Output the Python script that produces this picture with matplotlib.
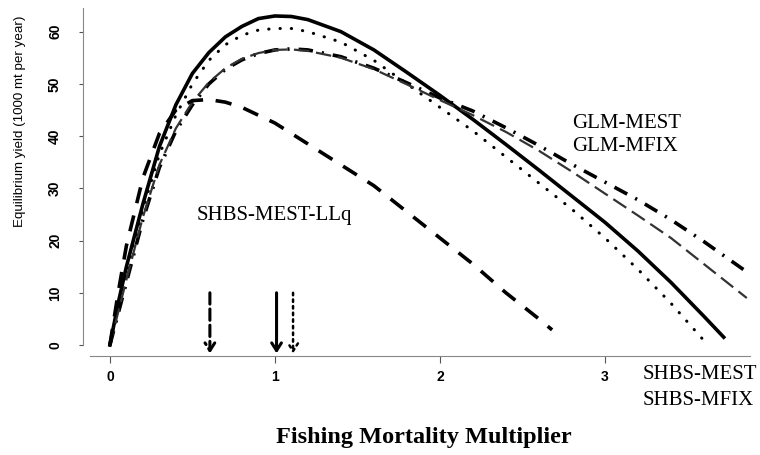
import numpy as np
import matplotlib.pyplot as plt

# fishing mortality multiplier vs equilibrium yield
f_solid = [0, 0.05, 0.1, 0.2, 0.3, 0.4, 0.5, 0.6, 0.7, 0.8, 0.9, 1.0, 1.1, 1.2, 1.4, 1.6, 1.8, 2.0,
           2.2, 2.4, 2.6, 2.8, 3.0, 3.2, 3.4, 3.6, 3.72]
y_solid = [0, 8, 15, 27, 38, 46, 52, 56, 59, 61, 62.5, 63, 62.9, 62.3, 60, 56.5, 52.2, 47.8,
           43.2, 38.4, 33.5, 28.5, 23.5, 18, 12, 5.5, 1.5]

f_dot = [0, 0.1, 0.2, 0.3, 0.4, 0.5, 0.6, 0.7, 0.8, 0.9, 1.0, 1.1, 1.2, 1.4, 1.6, 1.8, 2.0,
         2.2, 2.4, 2.6, 2.8, 3.0, 3.2, 3.4, 3.61]
y_dot = [0, 14, 26, 36.5, 44, 50, 54.5, 57.5, 59.3, 60.3, 60.6, 60.6, 60, 58, 54.5, 50, 45.5,
         41, 36, 31, 26, 20.5, 14.5, 8, 0.5]

f_glm = [0, 0.1, 0.2, 0.3, 0.4, 0.5, 0.6, 0.7, 0.8, 0.9, 1.0, 1.1, 1.2, 1.4, 1.6, 1.8, 2.0,
         2.2, 2.4, 2.6, 2.8, 3.0, 3.2, 3.4, 3.6, 3.86]
y_glm_mest = [0, 12, 24, 34, 41, 46, 50, 52.8, 54.6, 55.8, 56.5, 56.7, 56.5, 55.2, 53, 50.2,
              47.3, 44.8, 41.6, 38.2, 34.6, 31.2, 27.8, 24, 19.8, 14]
y_glm_mfix = [0, 12.5, 24.5, 34.5, 41.5, 46.5, 50.3, 53, 54.8, 55.9, 56.5, 56.6, 56.3, 55, 52.8,
              49.9, 46.9, 44, 40.8, 37.2, 33.2, 29, 24.8, 20.5, 15.5, 9]

f_llq = [0, 0.05, 0.1, 0.2, 0.3, 0.4, 0.5, 0.6, 0.7, 0.8, 1.0, 1.2, 1.4, 1.6, 1.8, 2.0, 2.2,
         2.4, 2.6, 2.68]
y_llq = [0, 10, 19, 32, 40.5, 45, 46.8, 47, 46.5, 45.5, 42.5, 38.5, 34.5, 30.5, 25.5, 20.5,
         15.5, 10, 5, 2.9]

# F at maximum yield, shown by arrows
f_msy = [0.606, 1.01, 1.11]
arrow_styles = ['--', '-', ':']

fig = plt.figure(figsize=(7.6, 4.55), dpi=100)
ax = fig.add_axes([0.109, 0.2176, 0.891, 0.7714])

ax.plot(f_solid, y_solid, color='black', lw=2.6, ls='-')
ax.plot(f_dot, y_dot, color='black', lw=2.2, ls=(0, (0.1, 3.6)), dash_capstyle='round')
ax.plot(f_glm, y_glm_mest, color='black', lw=2.6, ls=(0, (4, 2.5, 0.6, 2.5)))
ax.plot(f_glm, y_glm_mfix, color='#333333', lw=1.6, ls=(0, (7, 3)))
ax.plot(f_llq, y_llq, color='black', lw=2.6, ls=(0, (4.5, 3.5)))

for f, st in zip(f_msy, arrow_styles):
    ax.annotate('', xy=(f, -1.6), xytext=(f, 10),
                arrowprops=dict(arrowstyle='->,head_length=0.55,head_width=0.35',
                                color='black', lw=2.2 if st != ':' else 1.8, ls=st,
                                shrinkA=0, shrinkB=0))

ax.set_xlim(-0.164, 3.94)
ax.set_ylim(-2.1, 65.1)

for s in ['top', 'right']:
    ax.spines[s].set_visible(False)
ax.spines['left'].set_bounds(0, 64.6)
ax.spines['bottom'].set_bounds(-0.12, 3.88)
for s in ['left', 'bottom']:
    ax.spines[s].set_color('#888888')
    ax.spines[s].set_linewidth(0.8)
    ax.spines[s].set_linestyle((0, (6, 1)))

ax.set_xticks([0, 1, 2, 3])
ax.set_yticks([0, 10, 20, 30, 40, 50, 60])
ax.tick_params(axis='x', length=5, width=0.8, color='#555555', pad=5)
ax.tick_params(axis='y', length=3, width=0.8, color='#555555', pad=12)
for lab in ax.get_xticklabels():
    lab.set_fontfamily('Liberation Sans')
    lab.set_fontweight('bold')
    lab.set_fontsize(10)
for lab in ax.get_yticklabels():
    lab.set_fontfamily('Liberation Sans')
    lab.set_fontweight('bold')
    lab.set_fontsize(10)
    lab.set_rotation(90)
    lab.set_va('center')

fig.text(20 / 760, 1 - 121 / 455, 'Equilibrium yield (1000 mt per year)', rotation=90,
         ha='center', va='center', fontsize=9.6, family='Liberation Sans')
fig.text(424 / 760, 1 - 437 / 455, 'Fishing Mortality Multiplier', ha='center', va='center',
         fontsize=17.5, fontweight='bold', family='Liberation Serif')

serif = dict(family='Liberation Serif', fontsize=15, color='black')
fig.text(572 / 760, 1 - 128 / 455, 'GLM-MEST', ha='left', va='baseline', **serif)
fig.text(572 / 760, 1 - 151 / 455, 'GLM-MFIX', ha='left', va='baseline', **serif)
fig.text(643 / 760, 1 - 379 / 455, 'SHBS-MEST', ha='left', va='baseline', **serif)
fig.text(643 / 760, 1 - 405 / 455, 'SHBS-MFIX', ha='left', va='baseline', **serif)
fig.text(197 / 760, 1 - 220 / 455, 'SHBS-MEST-LLq', ha='left', va='baseline', **serif)

fig.savefig('out.png', dpi=100)
